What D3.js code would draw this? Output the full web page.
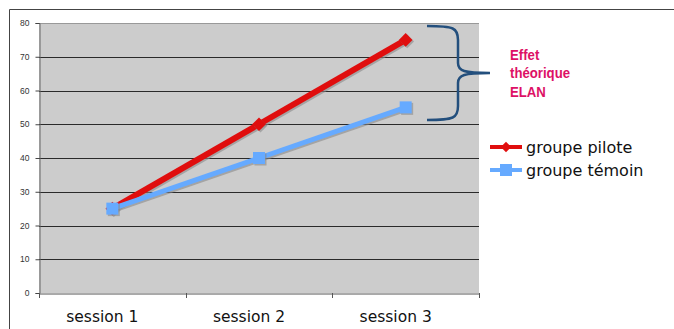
<!DOCTYPE html>
<html><head><meta charset="utf-8">
<script src="https://cdn.jsdelivr.net/npm/d3@7"></script>
<style>body{margin:0;background:#fff;}svg{display:block;}</style>
</head><body>
<svg id="c" width="674" height="329"></svg>
<script>
const categories = ["session 1", "session 2", "session 3"];
const pilote = [25, 50, 75];
const temoin = [25, 40, 55];
const yTicks = [0, 10, 20, 30, 40, 50, 60, 70, 80];
const seriesNames = ["groupe pilote", "groupe témoin"];
const annotation = ["Effet", "théorique", "ELAN"];

(function(){
const svg = d3.select("#c");
const L = 39, R = 479, T = 23, B = 293;

svg.append("path").attr("d", `M9.5,329 V9.5 H674`).attr("fill","none").attr("stroke","#444").attr("stroke-width",1);

const x = d3.scaleBand().domain(categories).range([L, R]);
const y = d3.scaleLinear().domain([0, 80]).range([B, T]);

svg.append("rect").attr("x", L).attr("y", T).attr("width", R-L).attr("height", B-T).attr("fill", "#cccccc");
svg.append("line").attr("x1",L).attr("x2",R).attr("y1",T+0.5).attr("y2",T+0.5).attr("stroke","#999");

svg.append("g").selectAll("line").data(yTicks.filter(d=>d>0 && d<80)).join("line")
  .attr("x1", L).attr("x2", R).attr("y1", d=>Math.round(y(d))+0.5).attr("y2", d=>Math.round(y(d))+0.5)
  .attr("stroke", "#2a2a2a").attr("stroke-width", 1);

const ya = svg.append("g").attr("transform", `translate(${L+0.5},0)`)
  .call(d3.axisLeft(y).tickValues(yTicks).tickSize(4).tickPadding(6));
ya.select(".domain").attr("stroke","#666");
ya.selectAll(".tick line").attr("stroke","#444");
ya.selectAll("text").attr("font-family","Liberation Sans, Arial, sans-serif").attr("font-size","8.5px").attr("fill","#333");

const xa = svg.append("g").attr("transform", `translate(0,${B+0.5})`)
  .call(d3.axisBottom(x).tickSize(0).tickPadding(17));
xa.select(".domain").attr("stroke","#555");
xa.selectAll("text").attr("font-family","DejaVu Sans, Verdana, sans-serif").attr("font-size","15.5px").attr("fill","#111")
  .attr("dx", -10);
const bounds = [x(categories[0]), x(categories[1]), x(categories[2]), R];
svg.append("g").selectAll("line").data(bounds).join("line")
  .attr("x1", d=>Math.round(d)+0.5).attr("x2", d=>Math.round(d)+0.5).attr("y1", B).attr("y2", B+5)
  .attr("stroke","#555");

const cx = d => x(d) + x.bandwidth()/2;
const line = d3.line().x((d,i)=>cx(categories[i])).y(d=>y(d));

function drawSeries(vals, color, width, marker) {
  const g = svg.append("g");
  g.append("path").attr("d", line(vals)).attr("fill","none").attr("stroke","#888").attr("stroke-width",width)
    .attr("opacity",0.6).attr("transform","translate(1.5,1.5)");
  g.append("path").attr("d", line(vals)).attr("fill","none").attr("stroke",color).attr("stroke-width",width);
  vals.forEach((v,i)=>{
    const px = cx(categories[i]), py = y(v);
    if (marker === "square") {
      g.append("rect").attr("x",px-6+1.5).attr("y",py-6+1.5).attr("width",12).attr("height",12).attr("fill","#888").attr("opacity",0.6);
      g.append("rect").attr("x",px-6).attr("y",py-6).attr("width",12).attr("height",12).attr("fill",color);
    } else {
      g.append("path").attr("d", d3.symbol(d3.symbolDiamond2, 120)()).attr("transform",`translate(${px+1.5},${py+1.5})`).attr("fill","#888").attr("opacity",0.6);
      g.append("path").attr("d", d3.symbol(d3.symbolDiamond2, 120)()).attr("transform",`translate(${px},${py})`).attr("fill",color);
    }
  });
}
drawSeries(pilote, "#e00e0e", 6, "diamond");
drawSeries(temoin, "#66aaff", 5, "square");

const lg = svg.append("g");
const legendItems = [
  {name: seriesNames[0], color:"#e00e0e", w:4, marker:"diamond", y:147},
  {name: seriesNames[1], color:"#66aaff", w:4, marker:"square", y:170}
];
legendItems.forEach(it=>{
  lg.append("line").attr("x1",490).attr("x2",522).attr("y1",it.y).attr("y2",it.y).attr("stroke",it.color).attr("stroke-width",it.w);
  if (it.marker==="square") lg.append("rect").attr("x",500).attr("y",it.y-6).attr("width",12).attr("height",12).attr("fill",it.color);
  else lg.append("path").attr("d", d3.symbol(d3.symbolDiamond2, 70)()).attr("transform",`translate(506,${it.y})`).attr("fill",it.color);
  lg.append("text").attr("x",526).attr("y",it.y+6).text(it.name)
    .attr("font-family","DejaVu Sans, Verdana, sans-serif").attr("font-size","16px").attr("fill","#111");
});

const bx = 427, bTop = 26, bBot = 120, mid = 73, tip = 490, sx = 458;
svg.append("path").attr("d",
  `M${bx},${bTop} C${sx-4},${bTop} ${sx},${bTop+2} ${sx},${bTop+14} L${sx},${mid-10} C${sx},${mid-2} ${sx+6},${mid} ${tip},${mid}
   M${bx},${bBot} C${sx-4},${bBot} ${sx},${bBot-2} ${sx},${bBot-14} L${sx},${mid+10} C${sx},${mid+2} ${sx+6},${mid} ${tip},${mid}`)
  .attr("fill","none").attr("stroke","#234f7d").attr("stroke-width",2.5);

const at = svg.append("text").attr("font-family","Liberation Sans, Arial, sans-serif").attr("font-weight","bold")
  .attr("font-size","15px").attr("fill","#dd1166").attr("transform","translate(510,0) scale(0.88,1)");
annotation.forEach((t,i)=>at.append("tspan").attr("x",0).attr("y",60+i*18.5).text(t));
})();
</script>
</body></html>
